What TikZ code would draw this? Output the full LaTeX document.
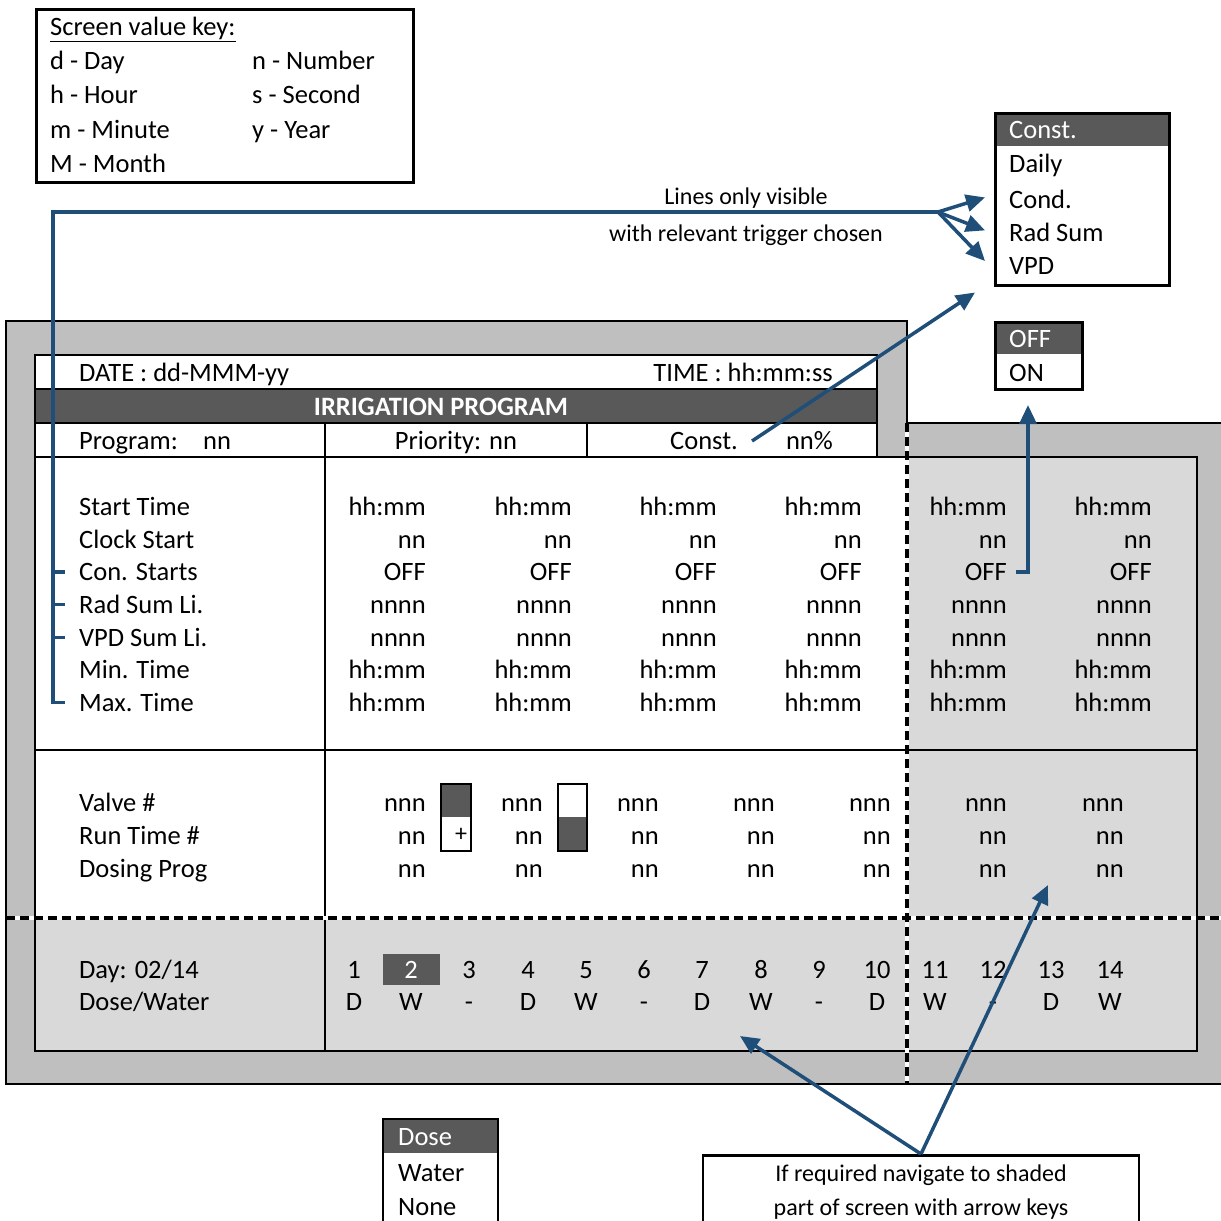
\documentclass[tikz,border=0pt]{standalone}
\usepackage{fontspec}
\setmainfont{Carlito}
\usetikzlibrary{arrows.meta}
\definecolor{barfill}{RGB}{89,89,89}
\definecolor{framefill}{RGB}{191,191,191}
\definecolor{shadefill}{RGB}{217,217,217}
\definecolor{linkblue}{RGB}{31,78,121}
\tikzset{
  lblL/.style={font=\fontsize{26.5}{32}\selectfont, inner sep=0pt, anchor=base west},
  valR/.style={lblL, anchor=base east},
  txtC/.style={lblL, anchor=base},
  noteC/.style={font=\fontsize{24}{29}\selectfont, inner sep=0pt, anchor=base},
  inv/.style={text=white},
  outline/.style={draw=black, line width=2.5pt},
  linkline/.style={draw=linkblue, line width=3.5pt},
  headed/.style={-{Triangle[length=19pt,width=17pt]}},
  dashfg/.style={draw=black, line width=3.5pt, dash pattern=on 9pt off 5pt},
  dashbg/.style={draw=white, line width=3.5pt}
}
\begin{document}
\begin{tikzpicture}[x=1pt,y=-1pt]
\useasboundingbox (0,0) rectangle (1221,1221);
\clip (0,0) rectangle (1221,1221);

% ---------- key box ----------
\node[outline, minimum width=377pt, minimum height=173pt, anchor=north west] (keybox) at (35,8) {};
\node[lblL] (keyttl) at (50,35.5) {\underline{Screen value key:}};
\node[lblL] (k1) at (50,69.5) {d - Day};
\node[lblL] (k2) at (50,103.5) {h - Hour};
\node[lblL] (k3) at (50,138.5) {m - Minute};
\node[lblL] (k4) at (50,172.5) {M - Month};
\node[lblL] (k5) at (252,69.5) {n - Number};
\node[lblL] (k6) at (252,103.5) {s - Second};
\node[lblL] (k7) at (252,138.5) {y - Year};

% ---------- trigger list ----------
\fill[barfill] (994,112) rectangle (1168,146);
\node[outline, minimum width=174pt, minimum height=172pt, anchor=north west] (cbox) at (994,112) {};
\node[lblL, inv] (itconst) at (1009,138.5) {Const.};
\node[lblL] (itdaily) at (1009,172.5) {Daily};
\node[lblL] (itcond) at (1009,208.5) {Cond.};
\node[lblL] (itrad) at (1009,241.5) {Rad Sum};
\node[lblL] (itvpd) at (1009,274.5) {VPD};

% ---------- OFF / ON list ----------
\fill[barfill] (994,321) rectangle (1081,354);
\node[outline, minimum width=87pt, minimum height=67pt, anchor=north west] (onbox) at (994,321) {};
\node[lblL, inv] (itoff) at (1009,347.5) {OFF};
\node[lblL] (iton) at (1009,381.5) {ON};

% ---------- Dose / Water / None list ----------
\fill[barfill] (383,1119) rectangle (498,1153);
\draw[outline] (383,1230) -- (383,1119) -- (498,1119) -- (498,1230);
\node[lblL, inv] (itdose) at (398,1145.5) {Dose};
\node[lblL] (itwater) at (398,1181.5) {Water};
\node[lblL] (itnone) at (398,1215.5) {None};

% ---------- note box ----------
\node[outline, minimum width=436pt, minimum height=90pt, anchor=north] (note) at (921,1154) {};
\node[noteC] (note1) at (921,1181) {If required navigate to shaded};
\node[noteC] (note2) at (921,1215) {part of screen with arrow keys};

% ---------- annotation ----------
\node[noteC] (ann1) at (746,204) {Lines only visible};
\node[noteC] (ann2) at (746,241) {with relevant trigger chosen};

% ---------- display frame ----------
\fill[framefill] (6,321) -- (907,321) -- (907,423) -- (1225,423) -- (1225,1084) -- (6,1084) -- cycle;
\draw[outline] (1225,423) -- (907,423) -- (907,321) -- (6,321) -- (6,1084) -- (1225,1084);

% header rows
\fill[white] (35,355) rectangle (877,457);
\fill[barfill] (35,389) rectangle (877,423);
\draw[outline] (35,355) rectangle (877,457);
\draw[outline] (35,389) -- (877,389);
\draw[outline] (35,423) -- (877,423);
\draw[outline] (587,423) -- (587,457);

% table body
\fill[white] (35,457) rectangle (1197,1051);
\fill[shadefill] (907,457) rectangle (1197,918);
\fill[shadefill] (35,918) rectangle (1197,1051);
\draw[outline] (35,457) rectangle (1197,1051);
\draw[outline] (325,423) -- (325,1051);
\draw[outline] (35,750) -- (1197,750);

% boundary of the scrolled part of the screen
\draw[dashbg] (907,423) -- (907,1084);
\draw[dashfg] (907,423) -- (907,1084);
\draw[dashbg] (6,918) -- (1221,918);
\draw[dashfg] (6,918) -- (1221,918);

% header texts
\node[lblL] (date) at (79,381.5) {DATE : dd-MMM-yy};
\node[valR] (time) at (833,381.5) {TIME : hh:mm:ss};
\node[txtC, inv, font=\fontsize{26.5}{32}\selectfont\bfseries] (title) at (441,415.5) {IRRIGATION PROGRAM};
\node[lblL] (prog) at (79,449.5) {Program:};
\node[lblL] (prognn) at (203,449.5) {nn};
\node[txtC] (prio) at (456,449.5) {Priority: nn};
\node[lblL] (cst) at (670,449.5) {Const.};
\node[valR] (cstnn) at (833,449.5) {nn\%};

% start block
\foreach \yy/\lab/\val [count=\r] in {507/Start Time/hh:mm, 540/Clock Start/nn, 572/Con. Starts/OFF, 605/Rad Sum Li./nnnn, 638/VPD Sum Li./nnnn, 670/Min. Time/hh:mm, 703/Max. Time/hh:mm} {
  \node[lblL] (row\r) at (79,{\yy+8.5}) {\lab};
  \foreach \xx [count=\c] in {426,572,717,862,1007,1152}
    \node[valR] (v\r-\c) at (\xx,{\yy+8.5}) {\val};
}

% valve block
\fill[barfill] (441,784) rectangle (471,817);
\draw[outline] (441,784) rectangle (471,851);
\node[lblL, anchor=center, font=\fontsize{24}{28}\selectfont] (plus) at (461,835) {+};
\fill[barfill] (558,817) rectangle (587,851);
\draw[outline] (558,784) rectangle (587,851);
\foreach \yy/\lab/\val [count=\r] in {803/Valve \#/nnn, 836/Run Time \#/nn, 869/Dosing Prog/nn} {
  \node[lblL] (vrow\r) at (79,{\yy+8.5}) {\lab};
  \foreach \xx [count=\c] in {426,543,659,775,891,1007,1124}
    \node[valR] (w\r-\c) at (\xx,{\yy+8.5}) {\val};
}

% day block
\fill[barfill] (383,954) rectangle (440,985);
\node[lblL] (day) at (79,978.5) {Day: 02/14};
\node[lblL] (dosew) at (79,1010.5) {Dose/Water};
\foreach \xx/\mk [count=\d] in {354/D, 411/W, 469/-, 528/D, 586/W, 644/-, 702/D, 761/W, 819/-, 877/D, 935/W, 993/-, 1051/D, 1110/W} {
  \ifnum\d=2
    \node[txtC, inv] (dn\d) at (\xx,978.5) {\d};
  \else
    \node[txtC] (dn\d) at (\xx,978.5) {\d};
  \fi
  \node[txtC] (dm\d) at (\xx,1010.5) {\mk};
}

% ---------- connectors ----------
\coordinate (hub) at (938,212);
\coordinate (bk) at (53,212);
\draw[linkline] (hub) -- (bk) -- (bk |- row7) -- ([xshift=-14pt]row7.west);
\foreach \r in {3,4,5}
  \draw[linkline] (bk |- row\r) -- ([xshift=-14pt]row\r.west);
\draw[linkline, headed] (hub) -- ([xshift=-24pt,yshift=2pt]itcond.west);
\draw[linkline, headed] (hub) -- ([xshift=-24pt,yshift=2pt]itrad.west);
\draw[linkline, headed] (hub) -- ([xshift=-24pt,yshift=5pt]itvpd.west);

\draw[linkline, headed] ([xshift=14pt]cst.east) -- ([shift={(-19pt,-6pt)}]cbox.south west);

\coordinate (ontgt) at (1028,405);
\draw[linkline, headed] ([xshift=9pt]v3-5.east) -| (ontgt);

\coordinate (daytgt) at (740,1036);
\coordinate (shtgt) at (1048,885);
\draw[linkline, headed] (note.north) -- (daytgt);
\draw[linkline, headed] (note.north) -- (shtgt);
\end{tikzpicture}
\end{document}
